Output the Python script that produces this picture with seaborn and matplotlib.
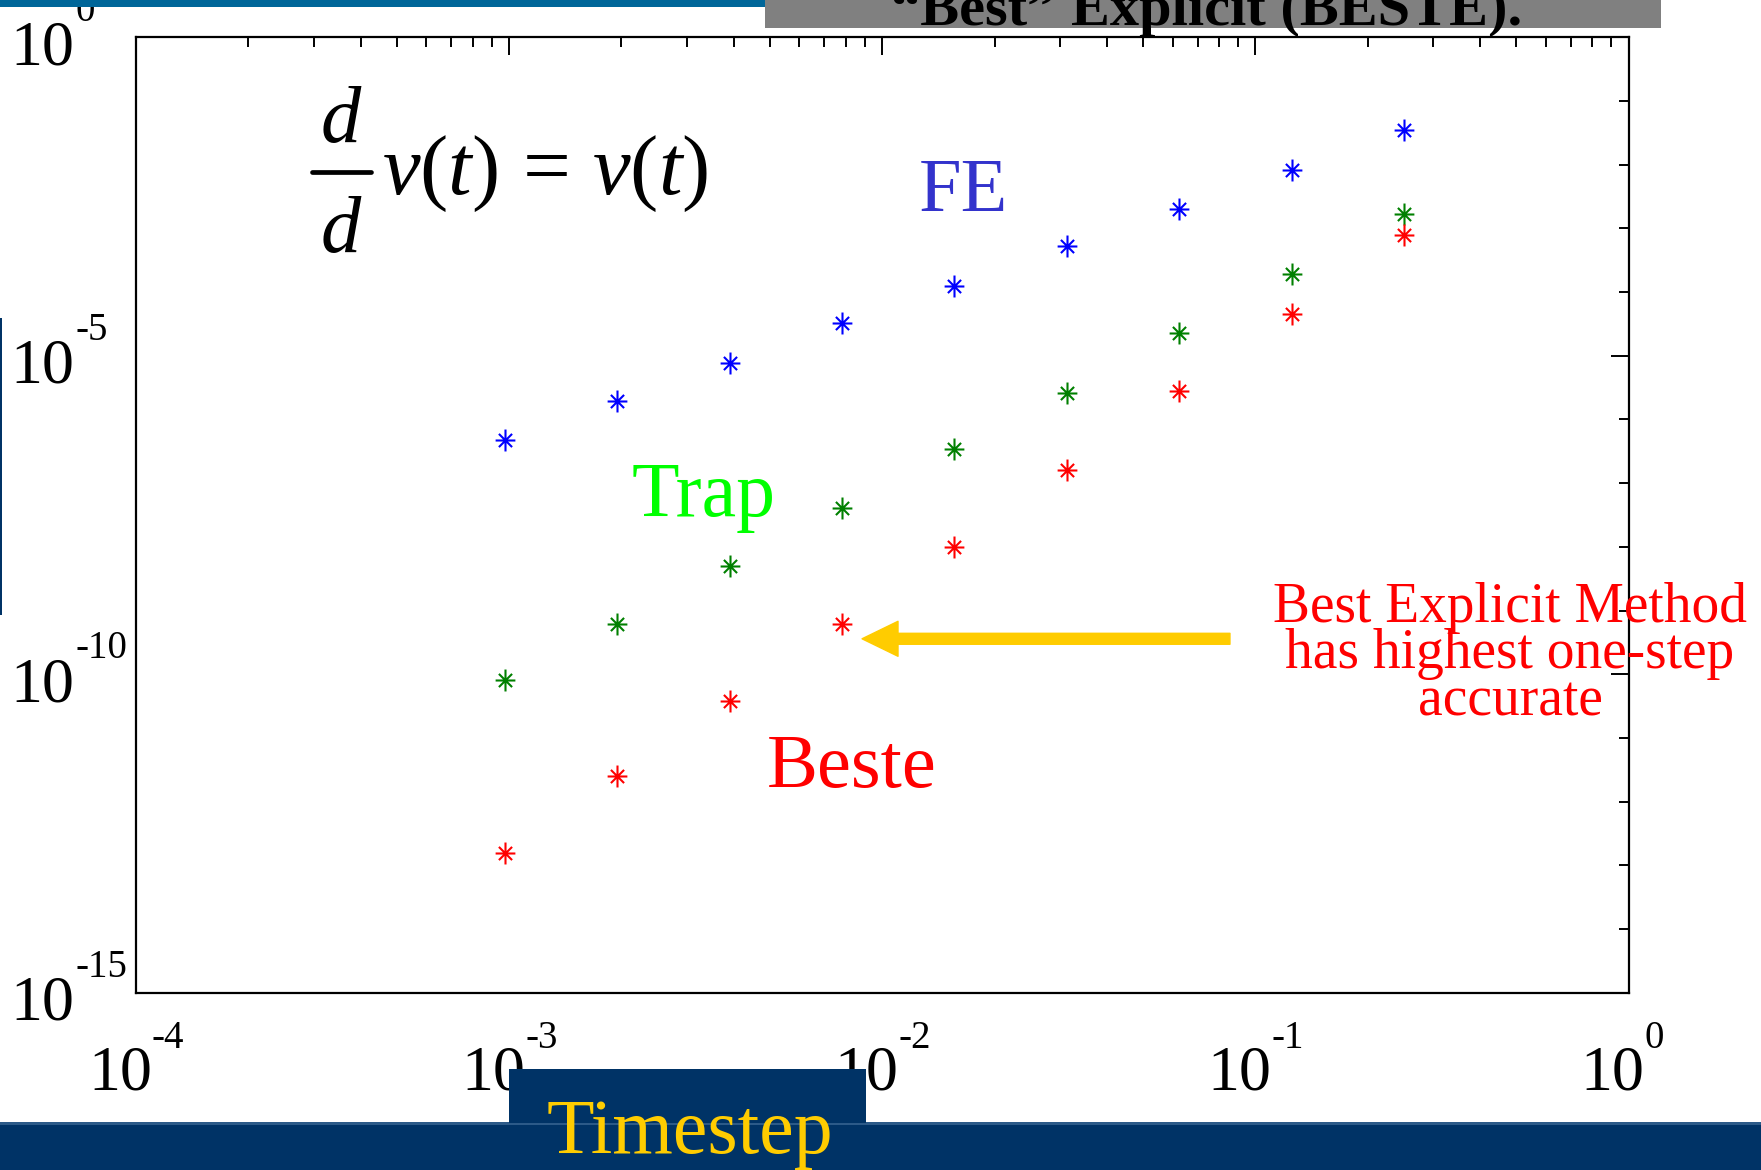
import numpy as np
import pandas as pd
import matplotlib
matplotlib.use("Agg")
import matplotlib.pyplot as plt
import seaborn as sns
from matplotlib.path import Path
from matplotlib.patches import Rectangle
from matplotlib.lines import Line2D
from matplotlib.ticker import LogLocator, NullFormatter

# ---------------- data ----------------
timestep = [0.000977, 0.00195, 0.0039, 0.0078, 0.0156, 0.03125, 0.0625, 0.125, 0.25]
fe_err = [4.8e-7, 1.95e-6, 7.8e-6, 3.24e-5, 1.23e-4, 5.25e-4, 2.0e-3, 8.3e-3, 3.47e-2]
trap_err = [8.1e-11, 6.2e-10, 5.0e-9, 4.1e-8, 3.4e-7, 2.6e-6, 2.3e-5, 1.9e-4, 1.7e-3]
beste_err = [1.58e-13, 2.57e-12, 3.8e-11, 6.2e-10, 1.0e-8, 1.58e-7, 2.8e-6, 4.5e-5, 7.9e-4]
methods = ["FE", "Trap", "Beste"]
method_colors = {"FE": "#0000FF", "Trap": "#008000", "Beste": "#FF0000"}

x_ticks = [1e-4, 1e-3, 1e-2, 1e-1, 1e0]
x_tick_exponents = ["-4", "-3", "-2", "-1", "0"]
y_ticks = [1e-15, 1e-10, 1e-5, 1e0]
y_tick_exponents = ["-15", "-10", "-5", "0"]
tick_base = "10"

annotation_lines = ["Best Explicit Method", "has highest one-step", "accurate"]
arrow_tip = (0.00883, 3.6e-10)
arrow_tail = (0.0855, 3.6e-10)

df = pd.DataFrame({
    "timestep": timestep * 3,
    "error": fe_err + trap_err + beste_err,
    "method": [m for m in methods for _ in timestep],
})

# ---------------- style ----------------
sns.set_theme(style="white")
plt.rcParams["font.family"] = ["Liberation Serif", "DejaVu Serif"]
plt.rcParams["text.color"] = "black"
plt.rcParams["axes.labelcolor"] = "black"
plt.rcParams["mathtext.fontset"] = "custom"
plt.rcParams["mathtext.rm"] = "Liberation Serif"
plt.rcParams["mathtext.it"] = "Liberation Serif:italic"
plt.rcParams["mathtext.bf"] = "Liberation Serif:bold"

W, H = 1761, 1170
fig = plt.figure(figsize=(W / 100, H / 100), dpi=100)
fig.patch.set_facecolor("white")


def fx(x):
    return x / W


def fy(y):
    return 1 - y / H


ax_l, ax_r, ax_t, ax_b = 135.9, 1628.5, 37.1, 992.8
ax = fig.add_axes([fx(ax_l), fy(ax_b), (ax_r - ax_l) / W, (ax_b - ax_t) / H])
ax.set_xscale("log")
ax.set_yscale("log")

# asterisk marker like MATLAB '*'
verts = [(0, -1), (0, 1), (-0.9, 0), (0.9, 0),
         (-0.6, -0.6), (0.6, 0.6), (-0.6, 0.6), (0.6, -0.6)]
codes = [Path.MOVETO, Path.LINETO] * 4
star = Path(verts, codes)

for m in methods:
    sub = df[df["method"] == m]
    c = method_colors[m]
    sns.scatterplot(data=sub, x="timestep", y="error", ax=ax, marker=star,
                    s=250, color=c, edgecolor=c, linewidth=1.5,
                    legend=False, zorder=3)

ax.set_xlabel("")
ax.set_ylabel("")
ax.set_xlim(1e-4, 1)
ax.set_ylim(1e-15, 1)

for s in ax.spines.values():
    s.set_linewidth(1.6)
    s.set_color("black")

ax.tick_params(which="both", direction="in", top=True, right=True,
               width=1.4, color="black", labelbottom=False, labelleft=False)
ax.tick_params(which="major", length=13)
ax.tick_params(which="minor", length=7)
ax.set_xticks(x_ticks)
ax.set_yticks(y_ticks)
ax.xaxis.set_minor_locator(LogLocator(base=10, subs=np.arange(2, 10), numticks=20))
ax.xaxis.set_minor_formatter(NullFormatter())
ax.yaxis.set_minor_locator(LogLocator(base=10, subs=(1.0,), numticks=40))
ax.yaxis.set_minor_formatter(NullFormatter())

# tick labels in the "10 + raised exponent" style of the original
base_fs, exp_fs = 46, 28
for t, e in zip(x_ticks, x_tick_exponents):
    ax.annotate(tick_base, xy=(t, 0), xycoords=("data", "axes fraction"),
                xytext=(11.5, -69.6), textcoords="offset points", color="black",
                ha="right", va="baseline", fontsize=base_fs, annotation_clip=False)
    ax.annotate(e, xy=(t, 0), xycoords=("data", "axes fraction"),
                xytext=(11.5, -39.7), textcoords="offset points", color="black",
                ha="left", va="baseline", fontsize=exp_fs, annotation_clip=False)
for t, e in zip(y_ticks, y_tick_exponents):
    ax.annotate(tick_base, xy=(0, t), xycoords=("axes fraction", "data"),
                xytext=(-90.5, -19.4), textcoords="offset points", color="black",
                ha="left", va="baseline", fontsize=base_fs, annotation_clip=False)
    ax.annotate(e, xy=(0, t), xycoords=("axes fraction", "data"),
                xytext=(-43.5, 11.6), textcoords="offset points", color="black",
                ha="left", va="baseline", fontsize=exp_fs, annotation_clip=False)

# ---------------- in-plot labels ----------------
fig.text(fx(919), fy(211), "FE", color="#3333CC", fontsize=55, ha="left", va="baseline")
fig.text(fx(632), fy(516), "Trap", color="#00FF00", fontsize=56, ha="left", va="baseline")
fig.text(fx(767), fy(787), "Beste", color="#FF0000", fontsize=55, ha="left", va="baseline")

# equation  d/d v(t) = v(t)
fig.text(fx(341), fy(142), "d", fontsize=58, style="italic", color="black",
         ha="center", va="baseline")
fig.text(fx(341), fy(252), "d", fontsize=58, style="italic", color="black",
         ha="center", va="baseline")
fig.add_artist(Line2D([fx(312), fx(371)], [fy(172), fy(172)], color="black",
                      linewidth=3.4, transform=fig.transFigure))
fig.text(fx(382), fy(194), r"$v(t)\,=\,v(t)$", fontsize=61, color="black",
         ha="left", va="baseline")

for line, base in zip(annotation_lines, [621.7, 668.3, 715.0]):
    fig.text(fx(1510), fy(base), line, color="#FF0000", fontsize=40,
             ha="center", va="baseline", zorder=6)

ax.annotate("", xy=arrow_tip, xytext=arrow_tail, xycoords="data", textcoords="data",
            arrowprops=dict(arrowstyle="simple,head_length=2.59,head_width=2.52,tail_width=0.79",
                            color="#FFCC00", shrinkA=0, shrinkB=0, mutation_scale=10))

# ---------------- slide decorations ----------------
def rect(x0, y0, x1, y1, color, z=10):
    r = Rectangle((fx(x0), fy(y1)), (x1 - x0) / W, (y1 - y0) / H,
                  transform=fig.transFigure, facecolor=color, edgecolor="none", zorder=z)
    fig.add_artist(r)


rect(0, 0, 765, 7, "#006699")
rect(765, 0, 1661, 28, "#808080")
fig.text(fx(1207), fy(25), "\u201cBest\u201d Explicit (BESTE).", fontsize=42,
         fontweight="bold", color="black", ha="center", va="baseline", zorder=11)
rect(0, 1123, W, H, "#003366")
rect(0, 1122, W, 1125, "#2C5A88", z=10.5)
rect(509, 1069, 866, 1123, "#003366", z=11)
fig.text(fx(547), fy(1153), "Timestep", color="#FFCC00", fontsize=56,
         ha="left", va="baseline", zorder=12)
rect(0, 318, 2, 615, "#003366")

fig.savefig("out.png", dpi=100)
